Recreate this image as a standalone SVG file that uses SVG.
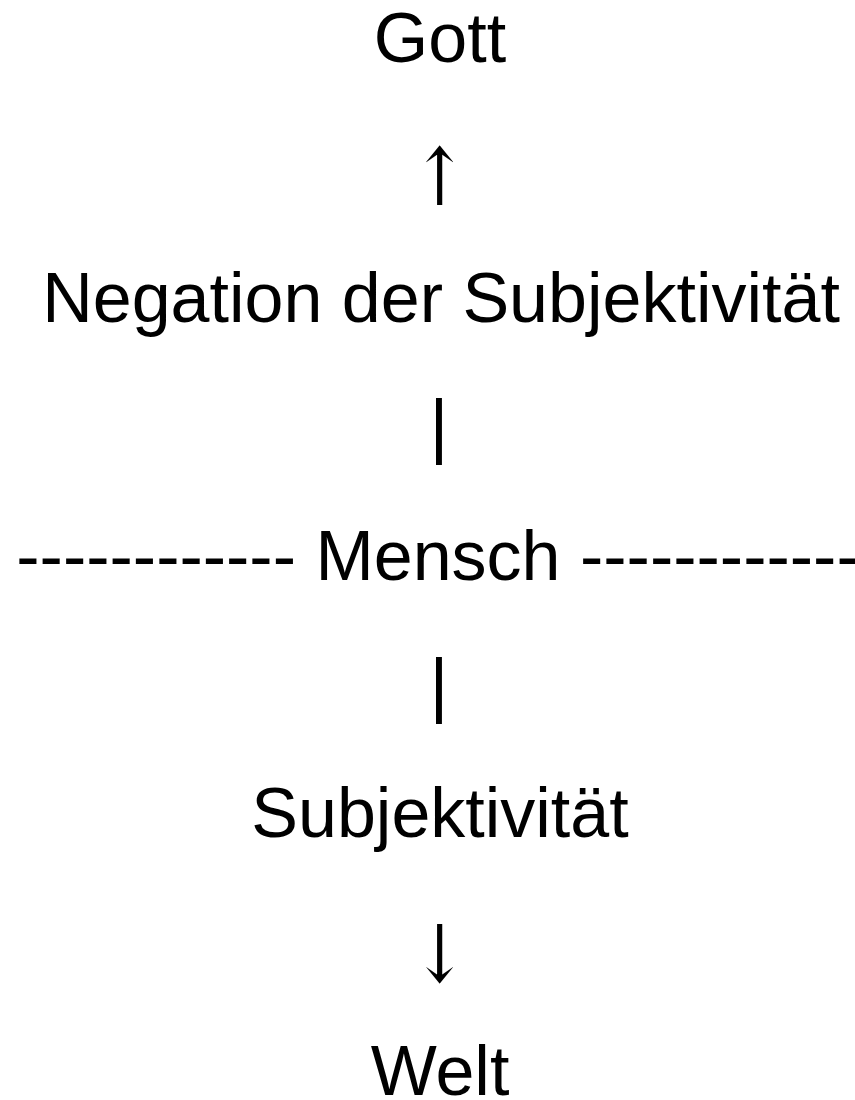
<svg xmlns="http://www.w3.org/2000/svg" width="855" height="1100" viewBox="0 0 855 1100">
<style>
text{font-family:"Liberation Sans",Arial,sans-serif;font-size:70px;fill:#000;text-anchor:middle}
.arr{font-family:"DejaVu Serif",serif;font-size:80px}
.bar{font-size:73px}
</style>
<rect width="855" height="1100" fill="#fff"/>
<g id="gott"><text x="440" y="62">Gott</text></g>
<g id="connectors">
<text class="arr" transform="translate(439.5 205) scale(0.82 1)" x="0" y="0">↑</text>
<text class="bar" x="439" y="450">|</text>
<text class="bar" x="439" y="709">|</text>
<text class="arr" transform="translate(439.5 982) scale(0.82 1)" x="0" y="0">↓</text>
</g>
<g id="negation"><text x="441" y="322">Negation der Subjektivität</text></g>
<g id="mensch"><text x="438" y="580">------------ Mensch ------------</text></g>
<g id="subjektivitaet"><text x="440" y="837">Subjektivität</text></g>
<g id="welt"><text x="440" y="1095">Welt</text></g>
</svg>
